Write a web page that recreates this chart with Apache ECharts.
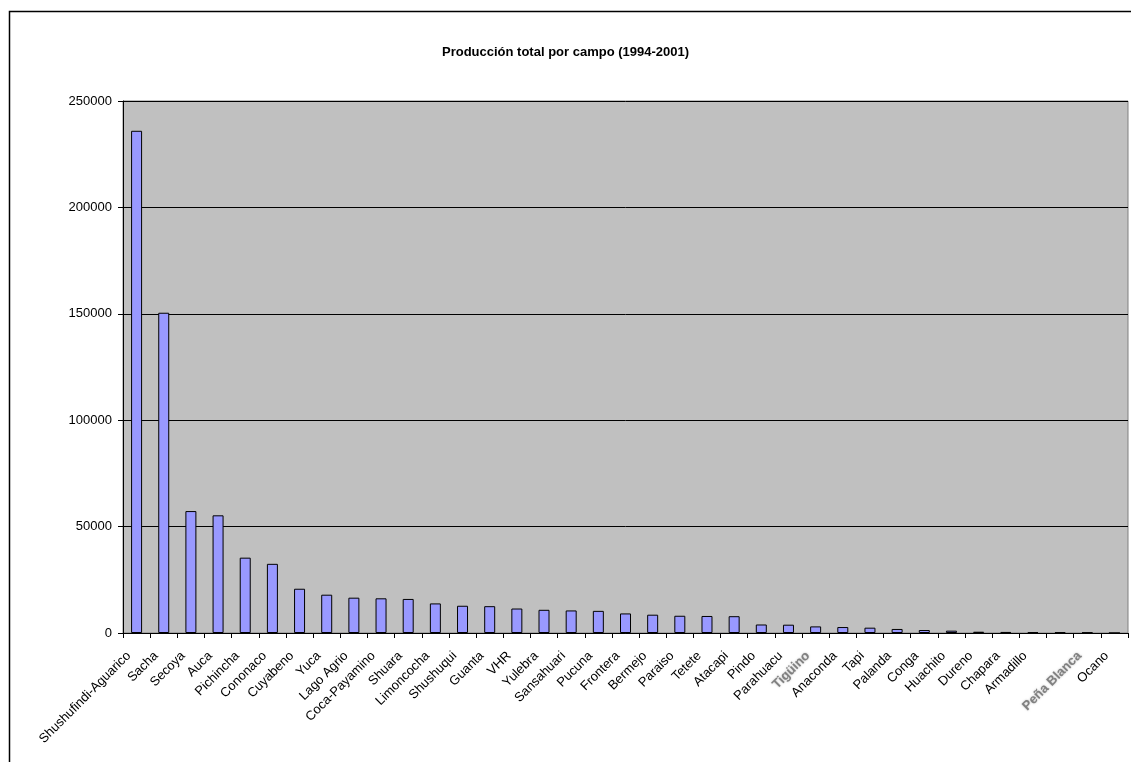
<!DOCTYPE html>
<html>
<head>
<meta charset="utf-8">
<script src="https://cdn.jsdelivr.net/npm/echarts@6/dist/echarts.min.js"></script>
<style>
  html, body { margin: 0; padding: 0; background: #ffffff; }
  #chart { width: 1131px; height: 762px; }
</style>
</head>
<body>
<div id="chart"></div>
<script>
// Oil fields, ordered by total production
const fields = [
  'Shushufindi-Aguarico', 'Sacha', 'Secoya', 'Auca', 'Pichincha', 'Cononaco',
  'Cuyabeno', 'Yuca', 'Lago Agrio', 'Coca-Payamino', 'Shuara', 'Limoncocha',
  'Shushuqui', 'Guanta', 'VHR', 'Yulebra', 'Sansahuari', 'Pucuna', 'Frontera',
  'Bermejo', 'Paraiso', 'Tetete', 'Atacapi', 'Pindo', 'Parahuacu', 'Tigüino',
  'Anaconda', 'Tapi', 'Palanda', 'Conga', 'Huachito', 'Dureno', 'Chapara',
  'Armadillo', '', 'Peña Blanca', 'Ocano'
];

// Total production 1994-2001 per field
const production = [
  236000, 150500, 57300, 55300, 35400, 32500,
  20800, 18000, 16600, 16300, 16000, 13900,
  12800, 12600, 11500, 10900, 10600, 10400, 9200,
  8600, 8100, 8000, 7900, 4000, 3900, 3100,
  2800, 2500, 1900, 1400, 1100, 600, 500,
  400, 350, 250, 0
];

// Fields whose names are shown in grey bold
const greyFields = ['Tigüino', 'Peña Blanca'];

const yTicks = [0, 50000, 100000, 150000, 200000, 250000];

const chart = echarts.init(document.getElementById('chart'), null, { renderer: 'canvas' });

chart.setOption({
  animation: false,
  backgroundColor: '#ffffff',
  title: {
    text: 'Producción total por campo (1994-2001)',
    left: 'center',
    top: 41,
    textStyle: {
      fontFamily: 'Liberation Sans, Arial, sans-serif',
      fontSize: 13,
      fontWeight: 'bold',
      color: '#000000'
    }
  },
  graphic: [{
    type: 'rect',
    shape: { x: 9.5, y: 11.5, width: 1140, height: 780 },
    style: { fill: 'none', stroke: '#000000', lineWidth: 1.5 },
    silent: true,
    z: -1
  }],
  grid: {
    left: 123,
    top: 101,
    width: 1005,
    height: 532,
    show: true,
    backgroundColor: '#C0C0C0',
    borderColor: '#808080',
    borderWidth: 1
  },
  xAxis: {
    type: 'category',
    data: fields,
    boundaryGap: true,
    axisLine: { show: true, lineStyle: { color: '#000000', width: 1 } },
    axisTick: { show: true, length: 5, interval: 0, lineStyle: { color: '#000000' } },
    axisLabel: {
      interval: 0,
      rotate: 45,
      margin: 13,
      padding: [0, 11, 0, 0],
      hideOverlap: false,
      fontFamily: 'Liberation Sans, Arial, sans-serif',
      fontSize: 13,
      color: '#000000',
      formatter: function (v) {
        return greyFields.indexOf(v) >= 0 ? '{g|' + v + '}' : v;
      },
      rich: {
        g: {
          fontFamily: 'Liberation Sans, Arial, sans-serif',
          fontSize: 13,
          fontWeight: 'bold',
          color: '#808080',
          textShadowColor: 'rgba(128,128,128,0.6)',
          textShadowBlur: 2
        }
      }
    },
    splitLine: { show: false }
  },
  yAxis: {
    type: 'value',
    min: yTicks[0],
    max: yTicks[yTicks.length - 1],
    interval: yTicks[1] - yTicks[0],
    axisLine: { show: true, lineStyle: { color: '#000000', width: 1 } },
    axisTick: { show: true, length: 5, lineStyle: { color: '#000000' } },
    axisLabel: {
      margin: 11,
      fontFamily: 'Liberation Sans, Arial, sans-serif',
      fontSize: 13,
      color: '#000000',
      formatter: function (v) { return String(v); }
    },
    splitLine: { show: true, lineStyle: { color: '#000000', width: 1 } }
  },
  series: [{
    type: 'bar',
    data: production,
    barWidth: 11,
    itemStyle: {
      color: '#9999FF',
      borderColor: '#000000',
      borderWidth: 1
    }
  }]
});
</script>
</body>
</html>
